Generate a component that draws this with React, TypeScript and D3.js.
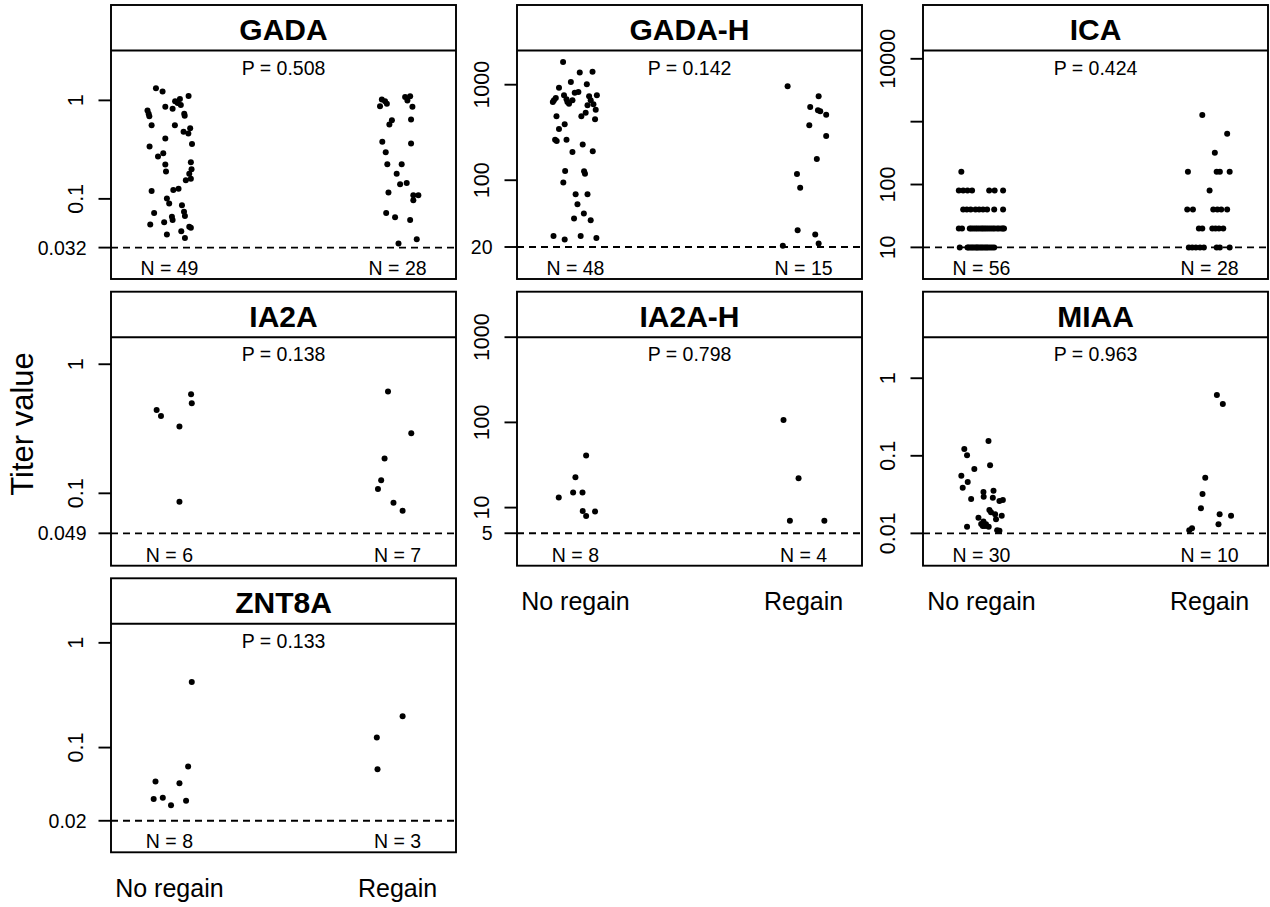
import React from 'react';
import * as d3 from 'd3';

// ---------- data ----------
const categories = ['No regain', 'Regain'];
const panelNames = ['GADA', 'GADA-H', 'ICA', 'IA2A', 'IA2A-H', 'MIAA', 'ZNT8A'];
const pValues = ['0.508', '0.142', '0.424', '0.138', '0.798', '0.963', '0.133'];
const thresholds = [0.032, 20, 10, 0.049, 5, 0.01, 0.02];
const thresholdLabels = ['0.032', '20', '', '0.049', '5', '', '0.02'];
const yDomains = [
  [0.01536, 3.21], [9.25, 2280], [3.14, 13560],
  [0.0275, 1.62], [2.08, 1000], [0.00383, 3.38],
  [0.01, 1.52],
];
const majorTicks = [[0.1, 1], [100, 1000], [10, 100, 1000, 10000], [0.1, 1], [10, 100, 1000], [0.01, 0.1, 1], [0.1, 1]];
const majorTickLabels = [['0.1', '1'], ['100', '1000'], ['10', '100', '', '10000'], ['0.1', '1'], ['10', '100', '1000'], ['0.01', '0.1', '1'], ['0.1', '1']];

// [titer value, horizontal jitter in category units]
const gadaNo = [[1.33,-0.059],[1.23,-0.030],[1.11,0.084],[1.03,0.046],[0.98,0.025],[0.94,0.036],[0.86,-0.018],[0.82,0.014],[0.90,0.050],[0.79,-0.096],[0.73,-0.091],[0.69,-0.088],[0.73,0.065],[0.70,0.067],[0.56,-0.078],[0.56,0.024],[0.52,0.091],[0.48,0.062],[0.46,0.083],[0.41,-0.018],[0.34,-0.087],[0.36,0.099],[0.29,-0.027],[0.27,-0.050],[0.223,-0.018],[0.19,-0.015],[0.235,0.094],[0.20,0.097],[0.18,0.087],[0.155,0.072],[0.16,0.094],[0.12,-0.078],[0.123,0.017],[0.127,0.040],[0.101,-0.011],[0.09,-0.001],[0.086,0.055],[0.072,-0.067],[0.074,0.064],[0.067,0.068],[0.066,0.011],[0.061,0.014],[0.058,-0.023],[0.055,-0.084],[0.052,0.087],[0.051,0.094],[0.047,0.052],[0.0435,-0.011],[0.040,0.068]];
const gadaRe = [[1.02,-0.069],[0.98,-0.055],[0.925,-0.047],[0.87,-0.077],[1.08,0.033],[1.10,0.055],[1.0,0.043],[0.86,0.065],[0.63,-0.025],[0.57,-0.036],[0.64,0.059],[0.38,-0.067],[0.364,0.059],[0.297,-0.052],[0.225,-0.045],[0.225,0.018],[0.18,-0.004],[0.141,0.011],[0.145,0.040],[0.116,-0.040],[0.109,0.069],[0.109,0.091],[0.097,0.069],[0.072,-0.050],[0.065,-0.011],[0.061,0.055],[0.0353,0.004],[0.0388,0.084]];
const gadahNo = [[1725,-0.054],[1345,0.019],[1367,0.075],[1066,-0.020],[1008,0.050],[930,-0.072],[686,-0.094],[726,-0.086],[774,-0.050],[703,-0.039],[659,-0.035],[633,-0.028],[824,-0.003],[837,0.013],[686,-0.013],[755,0.060],[774,0.094],[686,0.067],[623,0.079],[608,0.053],[548,0.089],[510,0.045],[467,0.026],[467,-0.083],[434,0.086],[385,-0.047],[344,-0.072],[266,-0.089],[258,-0.082],[266,-0.039],[236,0.032],[198,-0.013],[201,0.076],[125,-0.045],[124,0.038],[117,0.042],[94.6,-0.053],[71.4,0.001],[71.4,0.053],[56.1,0.009],[44.8,0.037],[39.7,-0.006],[38.2,0.067],[26.0,-0.096],[24.0,-0.047],[26.0,0.023],[24.9,0.092],[659,-0.099]];
const gadahRe = [[961,-0.070],[755,0.066],[585,0.029],[526,0.073],[539,0.063],[486,0.099],[376,0.025],[291,0.099],[167,0.058],[116,-0.029],[83.2,-0.015],[30.0,-0.026],[27.0,0.051],[20.6,-0.091],[21.8,0.066]];
const icaNo = [[160,-0.088],
  [80,-0.099],[80,-0.080],[80,-0.061],[80,-0.041],[80,0.034],[80,0.058],[80,0.095],
  [40,-0.080],[40,-0.064],[40,-0.047],[40,-0.026],[40,-0.010],[40,0.007],[40,0.025],[40,0.056],[40,0.095],
  [20,-0.099],[20,-0.085],[20,-0.051],[20,-0.044],[20,-0.035],[20,-0.026],[20,-0.018],[20,-0.009],[20,0],[20,0.007],[20,0.015],[20,0.023],[20,0.032],[20,0.041],[20,0.050],[20,0.058],[20,0.069],[20,0.077],[20,0.088],[20,0.095],[20,0.099],
  [10,-0.095],[10,-0.061],[10,-0.056],[10,-0.048],[10,-0.041],[10,-0.034],[10,-0.026],[10,-0.020],[10,-0.015],[10,-0.007],[10,0],[10,0.007],[10,0.015],[10,0.022],[10,0.029],[10,0.038],[10,0.047],[10,0.056]];
const icaRe = [[1280,-0.032],[640,0.077],[320,0.023],[160,-0.095],[160,0.031],[160,0.045],[160,0.088],[80,0],[40,-0.098],[40,-0.073],[40,0.016],[40,0.034],[40,0.051],[40,0.077],[20,-0.047],[20,-0.032],[20,0.012],[20,0.026],[20,0.041],[20,0.060],[10,-0.091],[10,-0.076],[10,-0.060],[10,-0.042],[10,-0.025],[10,0.031],[10,0.045],[10,0.088]];
const ia2aNo = [[0.443,-0.056],[0.398,-0.037],[0.329,0.044],[0.585,0.095],[0.499,0.098],[0.0862,0.044]];
const ia2aRe = [[0.614,-0.042],[0.292,0.060],[0.186,-0.057],[0.126,-0.072],[0.108,-0.086],[0.0847,-0.018],[0.0734,0.022]];
const ia2ahNo = [[13.1,-0.073],[22.7,0.0],[40.8,0.047],[15.0,-0.010],[15.0,0.031],[9.14,0.032],[7.98,0.047],[8.97,0.086]];
const ia2ahRe = [[107,-0.088],[22.1,-0.022],[7.03,-0.060],[7.03,0.091]];
const miaaNo = [[0.155,0.031],[0.1226,-0.075],[0.1015,-0.063],[0.0754,0.038],[0.0676,-0.031],[0.0555,-0.088],[0.0459,-0.060],[0.0388,-0.082],[0.0341,0.009],[0.0355,0.053],[0.0297,0.010],[0.0277,-0.045],[0.0288,0.050],[0.0261,0.079],[0.0269,0.094],[0.020,0.035],[0.0187,0.042],[0.0176,0.060],[0.0169,0.089],[0.0152,0.064],[0.0159,-0.013],[0.0142,0.009],[0.0131,0.020],[0.01244,0.006],[0.0122,0.032],[0.0122,-0.063],[0.0110,0.069],[0.0108,0.079],[0.0132,-0.001],[0.0124,0.016]];
const miaaRe = [[0.61,0.032],[0.467,0.058],[0.0523,-0.019],[0.0322,-0.031],[0.0210,-0.038],[0.0177,0.044],[0.0169,0.094],[0.0131,0.039],[0.0116,-0.077],[0.0110,-0.089]];
const znt8aNo = [[0.422,0.098],[0.0659,0.082],[0.0474,-0.061],[0.0457,0.044],[0.0322,-0.069],[0.0332,-0.029],[0.0282,0.007],[0.0310,0.073]];
const znt8aRe = [[0.199,0.022],[0.1245,-0.091],[0.0622,-0.088]];

const groups = [
  [gadaNo, gadaRe], [gadahNo, gadahRe], [icaNo, icaRe],
  [ia2aNo, ia2aRe], [ia2ahNo, ia2ahRe], [miaaNo, miaaRe],
  [znt8aNo, znt8aRe],
];

// ---------- layout ----------
const W = 1270, H = 907;
const COL_X = [111, 517, 923];
const ROW_Y = [5, 291.7, 578.3];
const PANEL_W = 345, PANEL_H = 274, STRIP_H = 45.5;
const FONT = '"Liberation Sans", Arial, Helvetica, sans-serif';
const LW = 1.9;

function Panel({ i }) {
  const col = i % 3, row = Math.floor(i / 3);
  const left = COL_X[col], top = ROW_Y[row];
  const right = left + PANEL_W, bottom = top + PANEL_H, stripB = top + STRIP_H;
  const x = d3.scaleLinear().domain([0.744, 2.256]).range([left, right]);
  const y = d3.scaleLog().domain(yDomains[i]).range([bottom, stripB]);
  const showX = i + 3 >= panelNames.length;
  const thr = thresholds[i];
  return (
    <g>
      <rect x={left} y={top} width={PANEL_W} height={PANEL_H} fill="#fff" stroke="#000" strokeWidth={LW} />
      <line x1={left} x2={right} y1={stripB} y2={stripB} stroke="#000" strokeWidth={LW} />
      <text x={(left + right) / 2} y={top + 35} textAnchor="middle" fontWeight="bold" fontSize={30} fontFamily={FONT}>{panelNames[i]}</text>
      <text x={(left + right) / 2} y={stripB + 24} textAnchor="middle" fontSize={19.5} fontFamily={FONT}>{`P = ${pValues[i]}`}</text>
      <line x1={left} x2={right} y1={y(thr)} y2={y(thr)} stroke="#000" strokeWidth={1.8} strokeDasharray="7 5" />
      {groups[i].map((g, gi) => (
        <g key={gi}>
          {g.map((d, k) => (
            <circle key={k} cx={x(gi + 1 + d[1])} cy={y(d[0])} r={3} fill="#000" />
          ))}
          <text x={x(gi + 1)} y={bottom - 4} textAnchor="middle" fontSize={19.5} fontFamily={FONT}>{`N = ${g.length}`}</text>
          {showX && (
            <text x={x(gi + 1)} y={bottom + 44.5} textAnchor="middle" fontSize={25} fontFamily={FONT}>{categories[gi]}</text>
          )}
        </g>
      ))}
      {majorTicks[i].map((t, k) => (
        <g key={k}>
          <line x1={left - 12.5} x2={left} y1={y(t)} y2={y(t)} stroke="#000" strokeWidth={LW} />
          {majorTickLabels[i][k] && (
            <text transform={`translate(${left - 28},${y(t)}) rotate(-90)`} textAnchor="middle" fontSize={21.5} fontFamily={FONT}>{majorTickLabels[i][k]}</text>
          )}
        </g>
      ))}
      {thresholdLabels[i] && (
        <g>
          <line x1={left - 12.5} x2={left} y1={y(thr)} y2={y(thr)} stroke="#000" strokeWidth={LW} />
          <text x={left - 24.5} y={y(thr) + 7} textAnchor="end" fontSize={19.5} fontFamily={FONT}>{thresholdLabels[i]}</text>
        </g>
      )}
    </g>
  );
}

export default function App() {
  return (
    <div style={{ position: 'absolute', left: 0, top: 0 }}>
      <svg width={W} height={H} viewBox={`0 0 ${W} ${H}`} style={{ display: 'block', background: '#fff' }}>
        <rect x={0} y={0} width={W} height={H} fill="#fff" />
        <text transform={`translate(33,424) rotate(-90)`} textAnchor="middle" fontSize={31} fontFamily={FONT}>Titer value</text>
        {panelNames.map((_, i) => <Panel key={i} i={i} />)}
      </svg>
    </div>
  );
}
